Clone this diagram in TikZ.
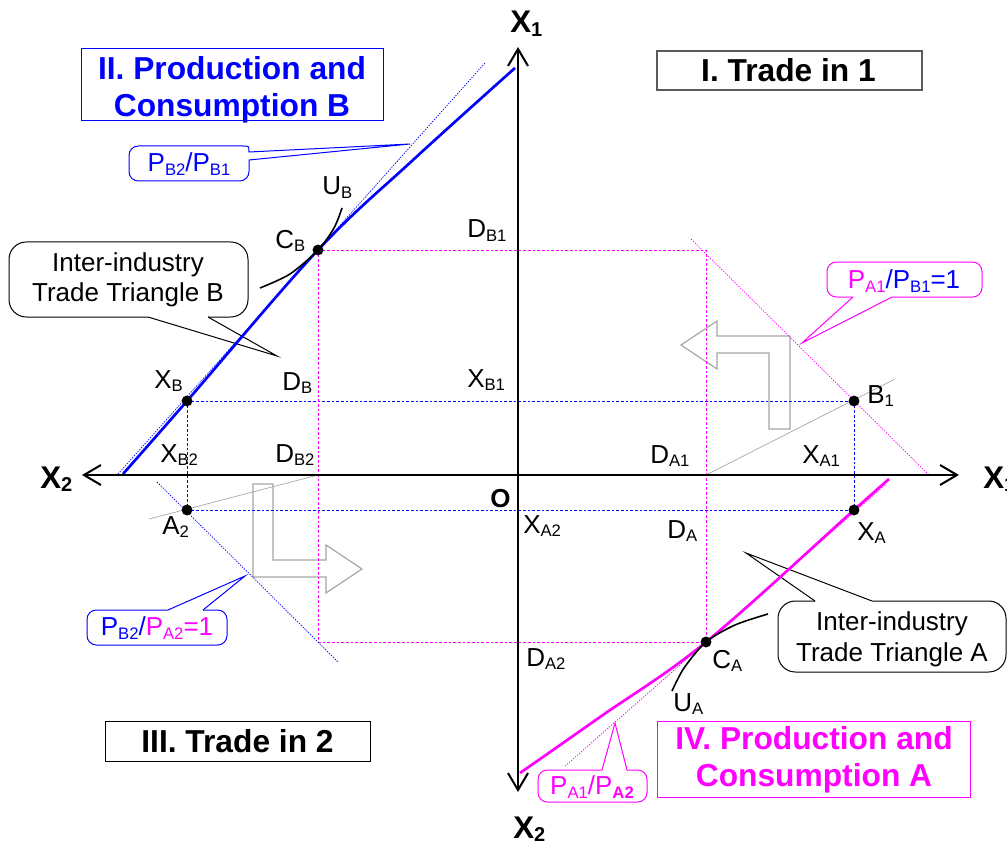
\documentclass[tikz,border=0pt]{standalone}
\usepackage{fontspec}
\setmainfont{Liberation Sans}
\usetikzlibrary{arrows.meta}
\definecolor{mag}{RGB}{255,0,255}
\definecolor{blu}{RGB}{0,0,255}
\definecolor{gry}{RGB}{165,165,165}
\definecolor{dgry}{RGB}{90,90,90}
\newcommand\sbs[1]{\raisebox{-2.4pt}{\fontsize{12.5}{12.5}\selectfont #1}}
\newcommand\sbx[1]{\raisebox{-2.5pt}{\fontsize{15}{15}\selectfont\bfseries #1}}
\begin{document}
\begin{tikzpicture}[x=0.75pt,y=-0.75pt,
 lbl/.style={inner sep=0pt, anchor=base west, font=\fontsize{19.5}{22.5}\selectfont},
 axlbl/.style={inner sep=0pt, anchor=base west, font=\fontsize{23.5}{26}\selectfont\bfseries},
 ttl/.style={inner sep=0pt, align=center, font=\fontsize{23.8}{27.8}\selectfont\bfseries},
 dot/.style={circle, fill=black, inner sep=0pt, minimum size=8.2pt},
 axisline/.style={line width=1.5pt, >={Straight Barb[length=12.75pt,width=15pt]}, <->},
 bdot/.style={blu, line width=0.75pt, dash pattern=on 2pt off 1.5pt},
 mdot/.style={mag, line width=0.75pt, dash pattern=on 2pt off 1.5pt},
 fine/.style={line width=0.55pt, dash pattern=on 1pt off 1pt},
 greyln/.style={gry, line width=0.5pt},
 garrow/.style={gry, line width=0.9pt},
 callout/.style={line width=0.75pt},
 ucurve/.style={black, line width=1.2pt},
 ppf/.style={line width=2pt}
]
\useasboundingbox (0,0) rectangle (1007,845);

% key coordinates
\coordinate (Ytop) at (518,47);
\coordinate (Ybot) at (518,792);
\coordinate (Xl) at (82,475);
\coordinate (Xr) at (959,475);
\coordinate (cb) at (318,250);
\coordinate (xb) at (187,401);
\coordinate (a2) at (187,510);
\coordinate (b1) at (854,401);
\coordinate (xa) at (854,510);
\coordinate (ca) at (706,642);
\coordinate (db1c) at (706,250);
\coordinate (da2c) at (318,642);
\coordinate (da1) at (706,475);
\coordinate (db2) at (318,475);

% ---- callouts ----
\coordinate (t1) at (410,144);
\draw[blu, callout, rounded corners=7pt] (249,160) -- (249,181) -- (129,181) -- (129,146) -- (243,146);
\draw[blu, callout] (243,146) .. controls (249,146) .. (249,152) -- (t1) -- (249,160);
\node[lbl, anchor=center, blu] (cPB) at (189,164) {P\sbs{B2}/P\sbs{B1}};

\coordinate (t2) at (277,356);
\draw[callout, rounded corners=13pt] (208,317) -- (248,317) -- (248,242) -- (9,242) -- (9,317) -- (148,317);
\draw[callout] (148,317) -- (t2) -- (208,317);
\node[lbl, anchor=center, align=center] (cTB) at (128,280) {Inter-industry\\Trade Triangle B};

\coordinate (t3) at (746,553);
\draw[callout, rounded corners=13pt] (872,601) -- (1006,601) -- (1006,672) -- (778,672) -- (778,601) -- (815,601);
\draw[callout] (815,601) -- (t3) -- (872,601);
\node[lbl, anchor=center, align=center, font=\fontsize{19.5}{23.5}\selectfont] (cTA) at (892,639) {Inter-industry\\Trade Triangle A};

\coordinate (t4) at (802,343);
\draw[mag, callout, rounded corners=7pt] (892,297) -- (982,297) -- (982,262) -- (827,262) -- (827,297) -- (853,297);
\draw[mag, callout] (853,297) -- (t4) -- (892,297);
\node[lbl, anchor=center] (cPA1) at (904,281) {\color{mag}P\sbs{A1}\color{blu}/P\sbs{B1}=1};

\coordinate (t5) at (245,576);
\draw[blu, callout, rounded corners=7pt] (203,610) -- (227,610) -- (227,645) -- (87,645) -- (87,610) -- (168,610);
\draw[blu, callout] (168,610) -- (t5) -- (203,610);
\node[lbl, anchor=center] (cPB2) at (157,628) {\color{blu}P\sbs{B2}/\color{mag}P\sbs{A2}=1};

\coordinate (t6) at (615,723);
\draw[mag, callout, rounded corners=7pt] (627,770) -- (647,770) -- (647,802) -- (538,802) -- (538,770) -- (602,770);
\draw[mag, callout] (602,770) -- (t6) -- (627,770);
\node[lbl, anchor=center, mag] (cPA) at (592,787) {P\sbs{A1}/P\raisebox{-2.4pt}{\fontsize{12.5}{12.5}\selectfont\bfseries A2}};

% ---- title boxes ----
\draw[blu, line width=0.75pt] (81,49) rectangle (383,121);
\node[ttl, blu] (tII) at (232,90) {II. Production and\\Consumption B};
\draw[dgry, line width=1.1pt] (657,51) rectangle (922,90);
\node[ttl, anchor=base] (tI) at (788.5,82) {I. Trade in 1};
\draw[black, line width=0.75pt] (105,721) rectangle (370,761);
\node[ttl, anchor=base] (tIII) at (237.5,752) {III. Trade in 2};
\draw[mag, line width=0.75pt] (657,721) rectangle (970,797);
\node[ttl, mag] (tIV) at (814,760) {IV. Production and\\Consumption A};

% ---- grey turning arrows ----
\draw[garrow] (790,429) -- (790,336) -- (717,336) -- (717,321) -- (681,345) -- (717,369) -- (717,353) -- (769,353) -- (769,429) -- cycle;
\draw[garrow] (253,484) -- (273,484) -- (273,560) -- (326,560) -- (326,545) -- (362,569) -- (326,593) -- (326,577) -- (253,577) -- cycle;

% ---- grey thin lines ----
\draw[greyln] (da1) -- (895,379);
\draw[greyln] (149,519) -- (db2);

% ---- dotted guide lines ----
\draw[bdot] (xb) -- (b1);
\draw[bdot] (xb) -- (a2);
\draw[bdot] (a2) -- (xa);
\draw[bdot] (b1) -- (xa);
\draw[mdot] (cb) -- (db1c) -- (ca);
\draw[mdot] (cb) -- (da2c) -- (ca);

% price lines
\draw[fine, blu] (118,474) -- (485,63);
\draw[fine, mag] (565,766) -- (885,485);
\draw[fine, mag] (691,239) -- (929,475);
\draw[fine, blu] (157,482) -- (338,662);

% ---- production frontiers ----
\draw[ppf, blu] plot[smooth, tension=0.6] coordinates {(123,474) (xb) (cb) (413,160) (515,68)};
\draw[ppf, mag] plot[smooth, tension=0.6] coordinates {(520,773) (600,717) (ca) (xa) (889,479)};

% ---- indifference curves ----
\draw[ucurve] plot[smooth] coordinates {(260,288) (290,274) (cb) (334,228) (342,208)};
\draw[ucurve] plot[smooth] coordinates {(672,691) (684,668) (ca) (735,625) (768,614)};

% ---- axes ----
\draw[axisline] (Ytop) -- (Ybot);
\draw[axisline] (Xl) -- (Xr);

% ---- points ----
\node[dot] (CB) at (cb) {};
\node[dot] (XB) at (xb) {};
\node[dot] (A2) at (a2) {};
\node[dot] (B1) at (b1) {};
\node[dot] (XA) at (xa) {};
\node[dot] (CA) at (ca) {};

% ---- labels ----
\node[axlbl] (lX1t) at (510,33) {X\sbx{1}};
\node[axlbl] (lX2b) at (513,838) {X\sbx{2}};
\node[axlbl] (lX2l) at (40,488) {X\sbx{2}};
\node[axlbl] (lX1r) at (983,488) {X\sbx{1}};
\node[lbl, font=\fontsize{19.5}{22.5}\selectfont\bfseries] (lO) at (490,507) {O};

\node[lbl] (lUB) at (322,195) {U\sbs{B}};
\node[lbl] (lCB) at (275,248) {C\sbs{B}};
\node[lbl] (lDB1) at (467,238) {D\sbs{B1}};
\node[lbl] (lXB) at (154,388) {X\sbs{B}};
\node[lbl] (lDB) at (282,390) {D\sbs{B}};
\node[lbl] (lXB1) at (467,387) {X\sbs{B1}};
\node[lbl] (lXB2) at (160,462) {X\sbs{B2}};
\node[lbl] (lDB2) at (275,462) {D\sbs{B2}};
\node[lbl] (lA2) at (162,534) {A\sbs{2}};
\node[lbl] (lDA1) at (650,463) {D\sbs{A1}};
\node[lbl] (lXA1) at (802,463) {X\sbs{A1}};
\node[lbl] (lB1) at (867,403) {B\sbs{1}};
\node[lbl] (lXA2) at (523,533) {X\sbs{A2}};
\node[lbl] (lDA) at (667,538) {D\sbs{A}};
\node[lbl] (lXA) at (857,540) {X\sbs{A}};
\node[lbl] (lDA2) at (526,666) {D\sbs{A2}};
\node[lbl] (lCA) at (712,668) {C\sbs{A}};
\node[lbl] (lUA) at (673,711) {U\sbs{A}};
\end{tikzpicture}
\end{document}
